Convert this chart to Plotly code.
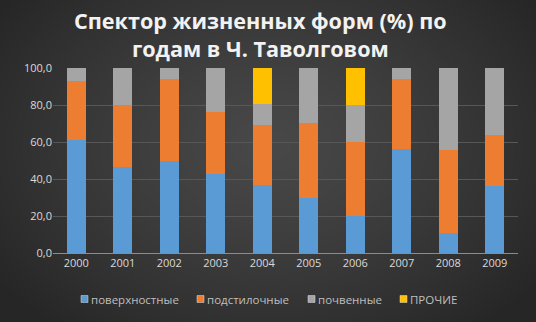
import base64
import struct
import zlib

import numpy as np
import plotly.graph_objects as go

years = ["2000", "2001", "2002", "2003", "2004", "2005", "2006", "2007", "2008", "2009"]
surface = [61.3, 46.3, 49.9, 42.5, 37.0, 29.9, 19.8, 56.2, 10.8, 36.4]
litter = [31.5, 33.9, 44.0, 33.7, 32.0, 40.6, 40.4, 38.0, 44.7, 27.2]
soil = [7.2, 19.8, 6.1, 23.8, 11.7, 29.5, 20.0, 5.8, 44.5, 36.4]
other = [0, 0, 0, 0, 19.3, 0, 19.8, 0, 0, 0]

names = ["поверхностные", "подстилочные", "почвенные", "ПРОЧИЕ"]
colors = ["#5b9bd5", "#ed7d31", "#a5a5a5", "#ffc000"]
series = [surface, litter, soil, other]

W, H = 536, 322
ML, MR, MT, MB = 53, 18, 68, 69
PW, PH = W - ML - MR, H - MT - MB


# --- radial gradient background as an inline PNG ---
def gradient_png(w, h):
    yy, xx = np.mgrid[0:h, 0:w].astype(float)
    cx, cy = w * 0.5, h * 0.45
    d = np.sqrt(((xx - cx) / (w * 0.62)) ** 2 + ((yy - cy) / (h * 0.75)) ** 2)
    d = np.clip(d, 0, 1)
    v = (72 - (72 - 38) * d ** 1.3).astype(np.uint8)
    img = np.stack([v, v, v], axis=-1)
    raw = b"".join(b"\x00" + img[r].tobytes() for r in range(h))

    def chunk(tag, data):
        c = struct.pack(">I", len(data)) + tag + data
        return c + struct.pack(">I", zlib.crc32(tag + data) & 0xFFFFFFFF)

    png = b"\x89PNG\r\n\x1a\n"
    png += chunk(b"IHDR", struct.pack(">IIBBBBB", w, h, 8, 2, 0, 0, 0))
    png += chunk(b"IDAT", zlib.compress(raw, 9))
    png += chunk(b"IEND", b"")
    return "data:image/png;base64," + base64.b64encode(png).decode()


fig = go.Figure()
for n, c, s in zip(names, colors, series):
    fig.add_trace(go.Bar(x=years, y=s, name=n, marker=dict(color=c, line=dict(width=0))))


def px_x(p):
    return (p - ML) / PW


def px_y(p):
    return (H - MB - p) / PH


font_family = "Open Sans, DejaVu Sans, sans-serif"

# title (two lines in one text)
title_text = "<b>Спектор жизненных форм (%) по<br>годам в Ч. Таволговом</b>"
annotations = [dict(
    text=title_text, xref="paper", yref="paper",
    x=px_x(260), y=px_y(34), xanchor="center", yanchor="middle",
    showarrow=False, align="center",
    font=dict(size=21.6, color="#f2f2f2", family=font_family),
)]

# custom legend
legend_x = [81, 197, 308, 400]
legend_yc = 299
shapes = []
for n, c, lx in zip(names, colors, legend_x):
    shapes.append(dict(
        type="rect", xref="paper", yref="paper",
        x0=px_x(lx), x1=px_x(lx + 7), y0=px_y(legend_yc + 3.5), y1=px_y(legend_yc - 3.5),
        fillcolor=c, line=dict(width=0.5, color="#dddddd"), layer="above",
    ))
    annotations.append(dict(
        text=n, xref="paper", yref="paper", x=px_x(lx + 8), y=px_y(legend_yc),
        xanchor="left", yanchor="middle", showarrow=False,
        font=dict(size=11.5, color="#bfbfbf", family=font_family),
    ))

fig.update_layout(
    barmode="stack",
    bargap=0.6,
    width=W, height=H,
    margin=dict(l=ML, r=MR, t=MT, b=MB),
    paper_bgcolor="#353535",
    plot_bgcolor="rgba(0,0,0,0)",
    separators=", ",
    showlegend=False,
    font=dict(family=font_family, color="#d9d9d9", size=11),
    annotations=annotations,
    shapes=shapes,
    images=[dict(
        source=gradient_png(W, H), xref="paper", yref="paper",
        x=px_x(0), y=px_y(0), sizex=W / PW, sizey=H / PH,
        xanchor="left", yanchor="top", sizing="stretch", layer="below",
    )],
    xaxis=dict(showgrid=False, showline=True, linecolor="#8c8c8c", linewidth=1,
               ticks="", tickfont=dict(size=11, color="#d9d9d9")),
    yaxis=dict(range=[0, 100], dtick=20, tickformat=".1f", showgrid=True,
               gridcolor="#575757", gridwidth=1, zeroline=False, ticks="",
               tickfont=dict(size=11, color="#d9d9d9")),
)

fig.write_html("out.html")
